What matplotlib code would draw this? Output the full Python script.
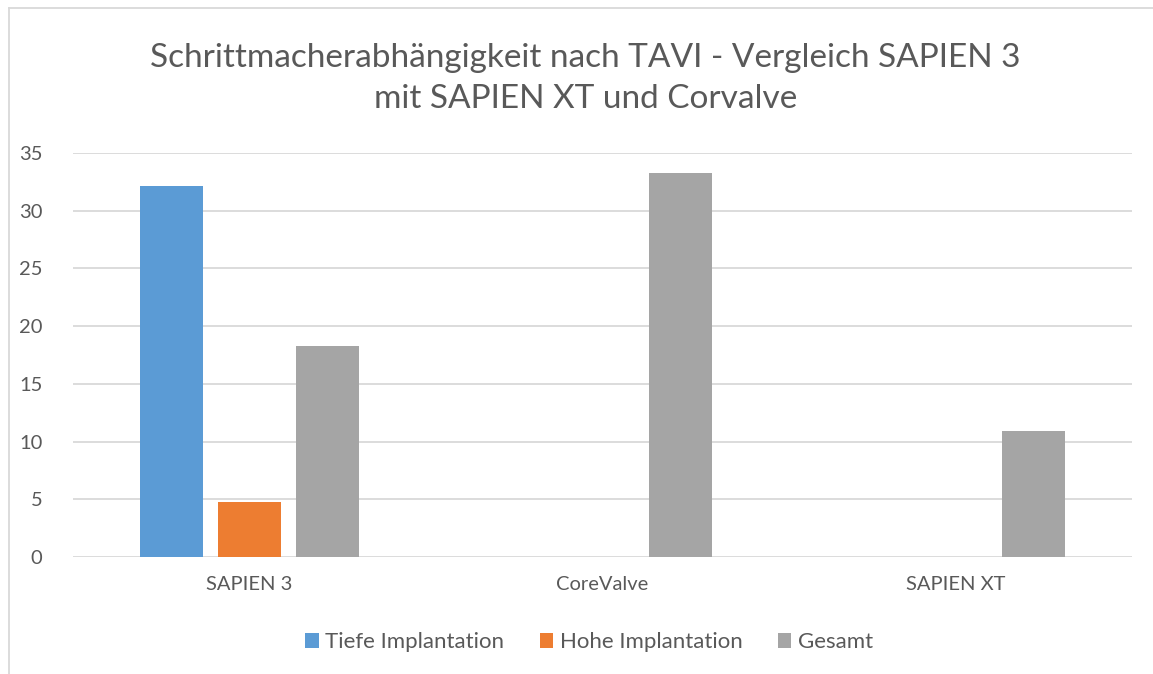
import matplotlib.pyplot as plt
from matplotlib.lines import Line2D
import numpy as np

plt.rcParams['font.family'] = ['Lato', 'DejaVu Sans']

categories = ['SAPIEN 3', 'CoreValve', 'SAPIEN XT']
series_names = ['Tiefe Implantation', 'Hohe Implantation', 'Gesamt']
tiefe = [32.1, np.nan, np.nan]
hohe = [4.75, np.nan, np.nan]
gesamt = [18.3, 33.3, 10.9]
yticks = [0, 5, 10, 15, 20, 25, 30, 35]

colors = ['#5B9BD5', '#ED7D31', '#A5A5A5']
textcol = '#595959'

fig = plt.figure(figsize=(11.53, 6.74), dpi=100)
ax = fig.add_axes([0.0633, 0.1736, 0.9185, 0.5994])

x = np.arange(len(categories))
w = 0.176
step = 0.221
for i, (vals, name) in enumerate(zip([tiefe, hohe, gesamt], series_names)):
    ax.bar(x + (i - 1) * step, vals, width=w, color=colors[i], label=name, zorder=3)

ax.set_xlim(-0.5, 2.5)
ax.set_ylim(0, 35)
ax.set_yticks(yticks)
ax.set_xticks(x)
ax.set_xticklabels(categories)
ax.yaxis.grid(True, color='#D9D9D9', linewidth=1.3, zorder=0)
for s in ax.spines.values():
    s.set_visible(False)
ax.tick_params(axis='both', length=0, colors=textcol, labelsize=14.5)
ax.tick_params(axis='y', pad=22)
ax.tick_params(axis='x', pad=14)

fig.text(0.508, 0.884, 'Schrittmacherabhängigkeit nach TAVI - Vergleich SAPIEN 3\nmit SAPIEN XT und Corvalve',
         ha='center', va='center', fontsize=24, color=textcol, linespacing=1.45)

leg = fig.legend(loc='center', bbox_to_anchor=(0.511, 0.047), ncol=3, frameon=False,
                 fontsize=16, handlelength=0.6, handleheight=0.6, columnspacing=1.6,
                 handletextpad=0.3)
for t in leg.get_texts():
    t.set_color(textcol)

fig.add_artist(Line2D([0.0078, 0.0078], [0, 0.988], transform=fig.transFigure, color='#D9D9D9', linewidth=1.3))
fig.add_artist(Line2D([0.0078, 1], [0.988, 0.988], transform=fig.transFigure, color='#D9D9D9', linewidth=1.3))

fig.savefig('out.png', dpi=100)
